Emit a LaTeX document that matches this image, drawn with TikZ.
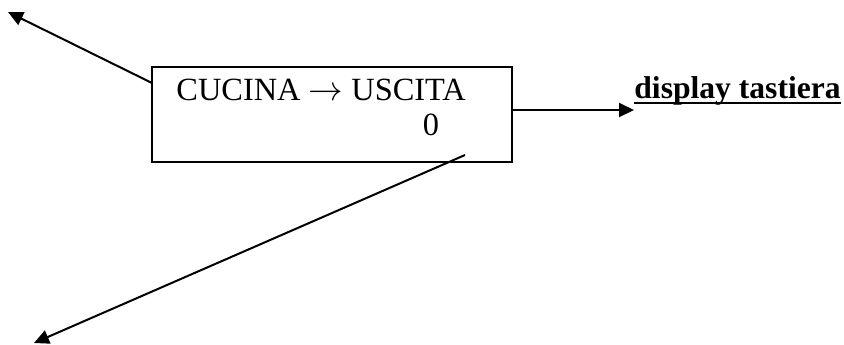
\documentclass[tikz,border=0pt]{standalone}
\usepackage{fontspec}
\setmainfont{Liberation Serif}
\usetikzlibrary{arrows.meta}
\begin{document}
\begin{tikzpicture}[x=0.5pt,y=-0.5pt,
  conn/.style={line width=1pt,-{Triangle[length=7.5pt,width=7pt]}},
  txt/.style={inner sep=0pt,font=\fontsize{16.2}{18}\selectfont},
  boxnode/.style={draw,line width=1pt,minimum width=180pt,minimum height=47.5pt,inner sep=0pt}]
\useasboundingbox (0,0) rectangle (844,344);
\node[boxnode] (box) at (332,114.5) {};
\node[txt,anchor=base west] (t1) at (176,100) {CUCINA $\rightarrow$ USCITA};
\node[txt,anchor=base] (t0) at (431,135) {0};
\node[txt,anchor=base west,font=\fontsize{15.8}{18}\selectfont\bfseries] (lbl) at (634,98) {display tastiera};
\draw[line width=1pt] ([yshift=-2.5pt]lbl.base west) -- ([yshift=-2.5pt]lbl.base east);
\coordinate (tl) at (8,12);
\coordinate (bl) at (34,343);
\coordinate (bs) at (465,155);
\coordinate (lw) at (152,83);
\draw[conn] (lw) -- (tl);
\draw[conn] (box.east |- 0,110) -- (lbl.west |- 0,110);
\draw[conn] (bs) -- (bl);
\end{tikzpicture}
\end{document}
